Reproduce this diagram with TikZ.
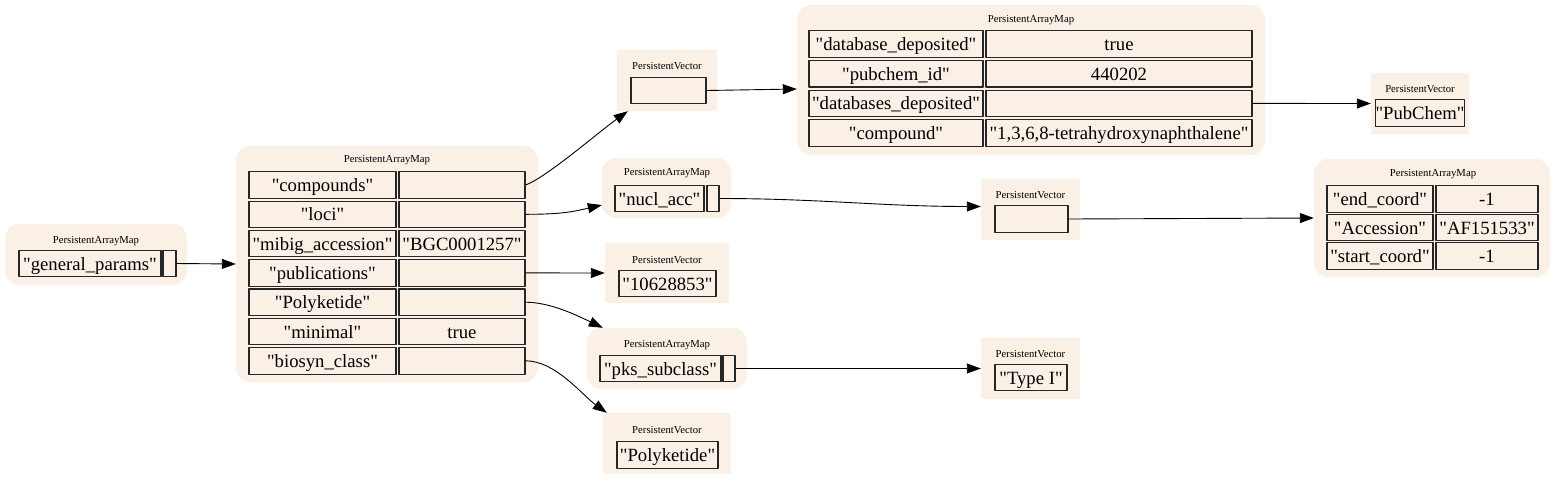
\documentclass[tikz,border=0pt]{standalone}
\usepackage{fontspec}
\setmainfont{Liberation Serif}[Ligatures=TeXOff]
\usetikzlibrary{arrows.meta}
\definecolor{linen}{HTML}{FAF0E6}

\begin{document}
\begin{tikzpicture}[x=1pt, y=-1pt, line join=round, >={Stealth[inset=0pt,length=14pt,width=10pt]},
    mapbg/.style={fill=linen, rounded corners=14pt, inner sep=0pt},
    vecbg/.style={fill=linen, inner sep=0pt},
    cell/.style={draw=black!85, line width=1.1pt, fill=linen, inner sep=0pt, minimum height=26.5pt,
        text height=17pt, text depth=4pt, font=\fontsize{18.7}{20}\selectfont},
    ttl/.style={font=\fontsize{10.7}{12}\selectfont, inner sep=0pt},
    edge/.style={->, line width=0.9pt}]
    \useasboundingbox (0,0) rectangle (1557,480);
    % map holding general_params
    \node[mapbg, minimum width=182pt, minimum height=61pt] (gmap) at (96,254.5) {};
    \node[ttl] at (96,241) {PersistentArrayMap};
    \node[cell, minimum width=142pt] (gpk) at (90,263.5) {"general\_params"};
    \node[cell, minimum width=13pt] (gps) at (169.5,263.5) {};
    % main map
    \node[mapbg, minimum width=302pt, minimum height=236pt] (main) at (387,264) {};
    \node[ttl] at (387,160) {PersistentArrayMap};
    \foreach \k/\v [count=\i] in {"compounds"/{}, "loci"/{}, "mibig\_accession"/"BGC0001257",
        "publications"/{}, "Polyketide"/{}, "minimal"/true, "biosyn\_class"/{}}{
        \node[cell, minimum width=147pt] (mk\i) at (322.5,185+29.3*\i-29.3) {\k};
        \node[cell, minimum width=126pt] (mv\i) at (462,185+29.3*\i-29.3) {\v};
    }
    % compounds vector and compound map
    \node[vecbg, minimum width=100pt, minimum height=61pt] (vcomp) at (667,80.5) {};
    \node[ttl] at (667,66) {PersistentVector};
    \node[cell, minimum width=75pt] (vcc) at (668.5,90.5) {};
    \node[mapbg, minimum width=468pt, minimum height=150pt] (cmap) at (1031,80) {};
    \node[ttl] at (1031,20) {PersistentArrayMap};
    \foreach \k/\v [count=\i] in {"database\_deposited"/true, "pubchem\_id"/440202,
        "databases\_deposited"/{}, "compound"/{"1,3,6,8-tetrahydroxynaphthalene"}}{
        \node[cell, minimum width=174pt] (ck\i) at (896,44+29.7*\i-29.7) {\k};
        \node[cell, minimum width=266pt] (cv\i) at (1119,44+29.7*\i-29.7) {\v};
    }
    \node[vecbg, minimum width=98pt, minimum height=61pt] (vpub) at (1420,103.5) {};
    \node[ttl] at (1420,89) {PersistentVector};
    \node[cell, minimum width=70pt] (vpc) at (1420,113) {"PubChem"};
    % loci
    \node[mapbg, minimum width=129pt, minimum height=60pt] (nmap) at (666.5,188) {};
    \node[ttl] at (667,173) {PersistentArrayMap};
    \node[cell, minimum width=89pt] (nmk) at (659.5,198.5) {"nucl\_acc"};
    \node[cell, minimum width=12pt] (nms) at (713,198.5) {};
    \node[vecbg, minimum width=99pt, minimum height=61pt] (vloc) at (1030.5,209.5) {};
    \node[ttl] at (1030.5,195) {PersistentVector};
    \node[cell, minimum width=73pt] (vlc) at (1031.5,219) {};
    \node[mapbg, minimum width=236pt, minimum height=118pt] (amap) at (1432,218) {};
    \node[ttl] at (1433,174) {PersistentArrayMap};
    \foreach \k/\v [count=\i] in {"end\_coord"/-1, "Accession"/"AF151533", "start\_coord"/-1}{
        \node[cell, minimum width=106pt] (ak\i) at (1380,199+28.5*\i-28.5) {\k};
        \node[cell, minimum width=102pt] (av\i) at (1487,199+28.5*\i-28.5) {\v};
    }
    % publications
    \node[vecbg, minimum width=124pt, minimum height=60pt] (vpb) at (667,273) {};
    \node[ttl] at (667,260) {PersistentVector};
    \node[cell, minimum width=97pt] (vpbc) at (667.5,283.5) {"10628853"};
    % Polyketide
    \node[mapbg, minimum width=160pt, minimum height=61pt] (pmap) at (667,358.5) {};
    \node[ttl] at (667,345) {PersistentArrayMap};
    \node[cell, minimum width=121pt] (pmk) at (660.5,368.5) {"pks\_subclass"};
    \node[cell, minimum width=12pt] (pms) at (729,368.5) {};
    \node[vecbg, minimum width=99pt, minimum height=61pt] (vtype) at (1030.5,368.5) {};
    \node[ttl] at (1030.5,354) {PersistentVector};
    \node[cell, minimum width=72pt] (vtc) at (1031,377.5) {"Type I"};
    % biosyn_class
    \node[vecbg, minimum width=128pt, minimum height=61pt] (vpk) at (667,443.5) {};
    \node[ttl] at (667,430) {PersistentVector};
    \node[cell, minimum width=101pt] (vpkc) at (667.5,455) {"Polyketide"};
    % edges
    \draw[edge] (gps.east) -- (main.west);
    \draw[edge] (mv1.east) .. controls +(20,-7) and +(-28,20) .. ([xshift=11pt]vcomp.south west);
    \draw[edge] (vcc.east) -- ([yshift=-9pt]cmap.west);
    \draw[edge] (cv3.east) -- (vpub.west);
    \draw[edge] (mv2.east) .. controls +(35,0) and +(-30,7) .. ([yshift=-17pt]nmap.west);
    \draw[edge] (nms.east) .. controls +(100,0) and +(-100,0) .. ([yshift=3pt]vloc.west);
    \draw[edge] (vlc.east) -- (amap.west);
    \draw[edge] (mv4.east) -- (vpb.west);
    \draw[edge] (mv5.east) .. controls +(25,0) and +(-25,-12) .. ([xshift=16pt]pmap.north west);
    \draw[edge] (pms.east) -- (vtype.west);
    \draw[edge] (mv7.east) .. controls +(30,0) and +(-25,-18) .. ([xshift=4pt]vpk.north west);
\end{tikzpicture}
\end{document}
